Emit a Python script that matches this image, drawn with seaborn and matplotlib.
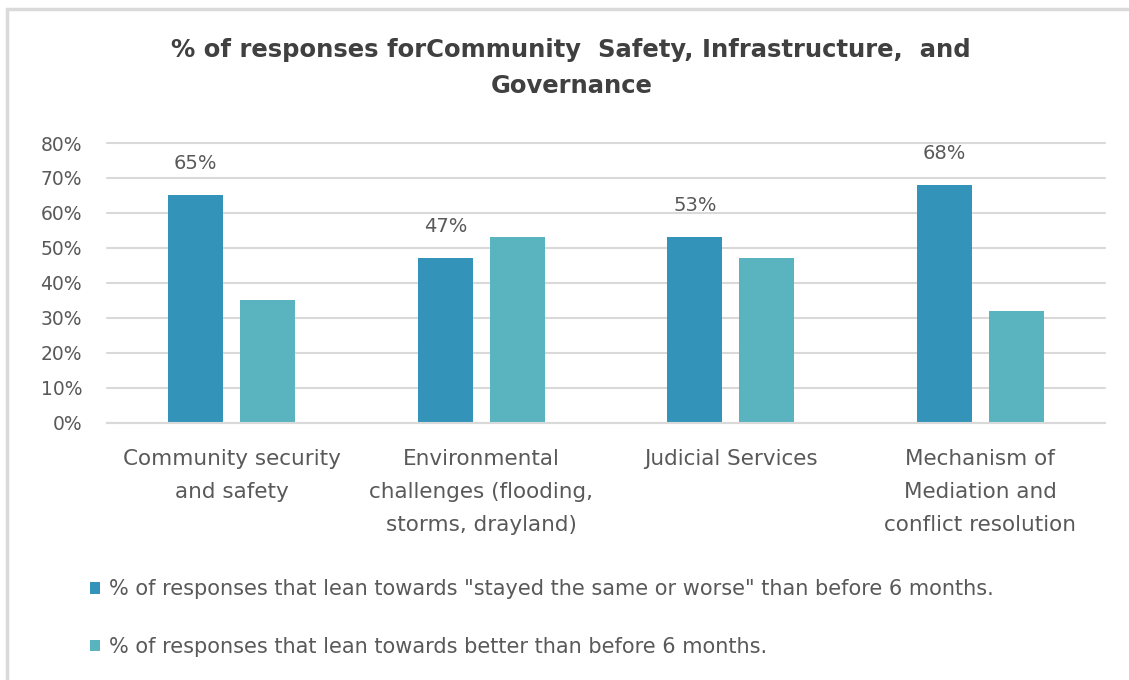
import matplotlib
matplotlib.use("Agg")
import matplotlib.pyplot as plt
from matplotlib.patches import Patch
from matplotlib.lines import Line2D
import pandas as pd
import seaborn as sns

categories = [
    "Community security\nand safety",
    "Environmental\nchallenges (flooding,\nstorms, drayland)",
    "Judicial Services",
    "Mechanism of\nMediation and\nconflict resolution",
]
series_names = [
    '% of responses that lean towards "stayed the same or worse" than before 6 months.',
    "% of responses that lean towards better than before 6 months.",
]
stayed_same_or_worse = [0.65, 0.47, 0.53, 0.68]
better = [0.35, 0.53, 0.47, 0.32]
y_ticks = [0.0, 0.1, 0.2, 0.3, 0.4, 0.5, 0.6, 0.7, 0.8]
title = "% of responses forCommunity  Safety, Infrastructure,  and\nGovernance"

colors = ["#3493B9", "#5AB4BF"]
text_color = "#595959"
grid_color = "#D9D9D9"

df = pd.DataFrame({
    "category": categories * 2,
    "series": [series_names[0]] * 4 + [series_names[1]] * 4,
    "value": stayed_same_or_worse + better,
})

sns.set_theme(style="white")
plt.rcParams["font.family"] = ["DejaVu Sans"]

fig = plt.figure(figsize=(11.29, 6.8), dpi=100)
ax = fig.add_axes([0.0948, 0.378, 0.884, 0.4117])

sns.barplot(
    data=df, x="category", y="value", hue="series", order=categories,
    hue_order=series_names, palette=colors, width=0.577, gap=0.236,
    saturation=1, legend=False, ax=ax, edgecolor="none",
)

ax.set_xlim(-0.5, 3.5)
ax.set_ylim(0, 0.8)
ax.set_yticks(y_ticks)
ax.set_yticklabels([f"{t:.0%}" for t in y_ticks])
ax.yaxis.grid(True, color=grid_color, linewidth=1.5)
for gl in ax.get_ygridlines():
    gl.set_clip_on(False)
ax.set_axisbelow(True)
for side in ["top", "right", "left"]:
    ax.spines[side].set_visible(False)
ax.spines["bottom"].set_color(grid_color)
ax.spines["bottom"].set_linewidth(1.5)
ax.set_xlabel("")
ax.set_ylabel("")
ax.tick_params(axis="y", length=0, pad=18, labelsize=13.5, labelcolor=text_color)
ax.tick_params(axis="x", length=0, pad=19, labelsize=15.5, labelcolor=text_color)
for lbl in ax.get_xticklabels():
    lbl.set_linespacing(1.8)

ax.bar_label(ax.containers[0], labels=[f"{v:.0%}" for v in stayed_same_or_worse],
             padding=16, fontsize=14, color=text_color)

fig.text(0.506, 0.9, title, ha="center", va="center", fontsize=17.5,
         fontweight="bold", color="#404040", linespacing=1.65)

handles = [Patch(facecolor=c, edgecolor="none") for c in colors]
leg = fig.legend(handles, series_names, loc="center left",
                 bbox_to_anchor=(0.063, 0.091), bbox_transform=fig.transFigure,
                 frameon=False, fontsize=15, labelcolor=text_color, handlelength=0.5,
                 handleheight=0.5, handletextpad=0.4, labelspacing=1.8)

# chart frame (top and left edges)
fig.add_artist(Line2D([0.006, 1.0], [0.987, 0.987], transform=fig.transFigure,
                      color="#DADADA", linewidth=2.5))
fig.add_artist(Line2D([0.006, 0.006], [0.0, 0.987], transform=fig.transFigure,
                      color="#DADADA", linewidth=2.5))

fig.savefig("out.png", dpi=100)
